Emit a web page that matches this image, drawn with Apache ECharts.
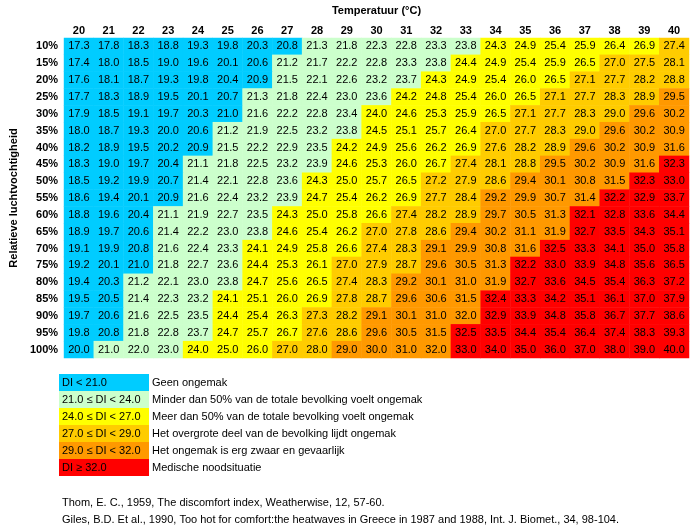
<!DOCTYPE html>
<html>
<head>
<meta charset="utf-8">
<script src="https://cdn.jsdelivr.net/npm/echarts@6/dist/echarts.min.js"></script>
<style>
  html, body { margin: 0; padding: 0; background: #fff; }
  #main { width: 690px; height: 528px; }
</style>
</head>
<body>
<div id="main"></div>
<script>
const chartDom = document.getElementById('main');
const myChart = echarts.init(chartDom);

// Column and row headers
const temps = ['20', '21', '22', '23', '24', '25', '26', '27', '28', '29', '30',
               '31', '32', '33', '34', '35', '36', '37', '38', '39', '40'];
const humidity = ['10%', '15%', '20%', '25%', '30%', '35%', '40%', '45%', '50%', '55%',
                  '60%', '65%', '70%', '75%', '80%', '85%', '90%', '95%', '100%'];

// Discomfort index, one row per humidity
const diRows = [
  [17.3, 17.8, 18.3, 18.8, 19.3, 19.8, 20.3, 20.8, 21.3, 21.8, 22.3, 22.8, 23.3, 23.8, 24.3, 24.9, 25.4, 25.9, 26.4, 26.9, 27.4],
  [17.4, 18.0, 18.5, 19.0, 19.6, 20.1, 20.6, 21.2, 21.7, 22.2, 22.8, 23.3, 23.8, 24.4, 24.9, 25.4, 25.9, 26.5, 27.0, 27.5, 28.1],
  [17.6, 18.1, 18.7, 19.3, 19.8, 20.4, 20.9, 21.5, 22.1, 22.6, 23.2, 23.7, 24.3, 24.9, 25.4, 26.0, 26.5, 27.1, 27.7, 28.2, 28.8],
  [17.7, 18.3, 18.9, 19.5, 20.1, 20.7, 21.3, 21.8, 22.4, 23.0, 23.6, 24.2, 24.8, 25.4, 26.0, 26.5, 27.1, 27.7, 28.3, 28.9, 29.5],
  [17.9, 18.5, 19.1, 19.7, 20.3, 21.0, 21.6, 22.2, 22.8, 23.4, 24.0, 24.6, 25.3, 25.9, 26.5, 27.1, 27.7, 28.3, 29.0, 29.6, 30.2],
  [18.0, 18.7, 19.3, 20.0, 20.6, 21.2, 21.9, 22.5, 23.2, 23.8, 24.5, 25.1, 25.7, 26.4, 27.0, 27.7, 28.3, 29.0, 29.6, 30.2, 30.9],
  [18.2, 18.9, 19.5, 20.2, 20.9, 21.5, 22.2, 22.9, 23.5, 24.2, 24.9, 25.6, 26.2, 26.9, 27.6, 28.2, 28.9, 29.6, 30.2, 30.9, 31.6],
  [18.3, 19.0, 19.7, 20.4, 21.1, 21.8, 22.5, 23.2, 23.9, 24.6, 25.3, 26.0, 26.7, 27.4, 28.1, 28.8, 29.5, 30.2, 30.9, 31.6, 32.3],
  [18.5, 19.2, 19.9, 20.7, 21.4, 22.1, 22.8, 23.6, 24.3, 25.0, 25.7, 26.5, 27.2, 27.9, 28.6, 29.4, 30.1, 30.8, 31.5, 32.3, 33.0],
  [18.6, 19.4, 20.1, 20.9, 21.6, 22.4, 23.2, 23.9, 24.7, 25.4, 26.2, 26.9, 27.7, 28.4, 29.2, 29.9, 30.7, 31.4, 32.2, 32.9, 33.7],
  [18.8, 19.6, 20.4, 21.1, 21.9, 22.7, 23.5, 24.3, 25.0, 25.8, 26.6, 27.4, 28.2, 28.9, 29.7, 30.5, 31.3, 32.1, 32.8, 33.6, 34.4],
  [18.9, 19.7, 20.6, 21.4, 22.2, 23.0, 23.8, 24.6, 25.4, 26.2, 27.0, 27.8, 28.6, 29.4, 30.2, 31.1, 31.9, 32.7, 33.5, 34.3, 35.1],
  [19.1, 19.9, 20.8, 21.6, 22.4, 23.3, 24.1, 24.9, 25.8, 26.6, 27.4, 28.3, 29.1, 29.9, 30.8, 31.6, 32.5, 33.3, 34.1, 35.0, 35.8],
  [19.2, 20.1, 21.0, 21.8, 22.7, 23.6, 24.4, 25.3, 26.1, 27.0, 27.9, 28.7, 29.6, 30.5, 31.3, 32.2, 33.0, 33.9, 34.8, 35.6, 36.5],
  [19.4, 20.3, 21.2, 22.1, 23.0, 23.8, 24.7, 25.6, 26.5, 27.4, 28.3, 29.2, 30.1, 31.0, 31.9, 32.7, 33.6, 34.5, 35.4, 36.3, 37.2],
  [19.5, 20.5, 21.4, 22.3, 23.2, 24.1, 25.1, 26.0, 26.9, 27.8, 28.7, 29.6, 30.6, 31.5, 32.4, 33.3, 34.2, 35.1, 36.1, 37.0, 37.9],
  [19.7, 20.6, 21.6, 22.5, 23.5, 24.4, 25.4, 26.3, 27.3, 28.2, 29.1, 30.1, 31.0, 32.0, 32.9, 33.9, 34.8, 35.8, 36.7, 37.7, 38.6],
  [19.8, 20.8, 21.8, 22.8, 23.7, 24.7, 25.7, 26.7, 27.6, 28.6, 29.6, 30.5, 31.5, 32.5, 33.5, 34.4, 35.4, 36.4, 37.4, 38.3, 39.3],
  [20.0, 21.0, 22.0, 23.0, 24.0, 25.0, 26.0, 27.0, 28.0, 29.0, 30.0, 31.0, 32.0, 33.0, 34.0, 35.0, 36.0, 37.0, 38.0, 39.0, 40.0]
];

// Class edges and legend
const bandEdges = [21, 24, 27, 29, 32];
const bandColors = ['#00ccff', '#ccffcc', '#ffff00', '#ffcc00', '#ff9900', '#ff0000'];
const bandLabels = ['DI < 21.0', '21.0 \u2264 DI < 24.0', '24.0 \u2264 DI < 27.0',
                    '27.0 \u2264 DI < 29.0', '29.0 \u2264 DI < 32.0', 'DI \u2265 32.0'];
const bandTexts = ['Geen ongemak',
                   'Minder dan 50% van de totale bevolking voelt ongemak',
                   'Meer dan 50% van de totale bevolking voelt ongemak',
                   'Het overgrote deel van de bevolking lijdt ongemak',
                   'Het ongemak is erg zwaar en gevaarlijk',
                   'Medische noodsituatie'];
// cells whose printed value is rounded up onto a class edge but are coloured in the class below
const roundedUp = [['25', '30%'], ['22', '75%'], ['38', '30%'], ['37', '35%'], ['33', '90%'], ['32', '100%']];

const sources = [
  'Thom, E. C., 1959, The discomfort index, Weatherwise, 12, 57-60.',
  'Giles, B.D. Et al., 1990, Too hot for comfort:the heatwaves in Greece in 1987 and 1988, Int. J. Biomet., 34, 98-104.'
];

const FONT = '"Liberation Sans", Arial, sans-serif';

function bandOf(v, t, rh) {
  let b = bandEdges.filter(e => v >= e).length;
  if (roundedUp.some(c => c[0] === t && c[1] === rh)) b -= 1;
  return b;
}

const cells = [];
diRows.forEach((row, yi) => {
  row.forEach((v, xi) => {
    cells.push([xi, yi, v, bandOf(v, temps[xi], humidity[yi])]);
  });
});

// legend block drawn under the table
const legendTop = 374;
const rowH = 17;
const graphics = [];
bandColors.forEach((c, i) => {
  graphics.push({
    type: 'rect', left: 59, top: legendTop + i * rowH,
    shape: { width: 90, height: rowH },
    style: { fill: c }
  });
  graphics.push({
    type: 'text', left: 62, top: legendTop + i * rowH + 3,
    style: { text: bandLabels[i], fill: '#000', font: '11px ' + FONT }
  });
  graphics.push({
    type: 'text', left: 152, top: legendTop + i * rowH + 3,
    style: { text: bandTexts[i], fill: '#000', font: '11px ' + FONT }
  });
});
sources.forEach((s, i) => {
  graphics.push({
    type: 'text', left: 62, top: 497 + i * 17,
    style: { text: s, fill: '#000', font: '11px ' + FONT }
  });
});

const option = {
  backgroundColor: '#fff',
  animation: false,
  grid: { left: 59, top: 34, width: 630, height: 324 },
  xAxis: {
    type: 'category',
    data: temps,
    position: 'top',
    name: 'Temperatuur (\u00b0C)',
    nameLocation: 'middle',
    nameGap: 22,
    nameTextStyle: { fontFamily: FONT, fontWeight: 'bold', fontSize: 11, color: '#000' },
    axisLine: { show: false },
    axisTick: { show: false },
    splitLine: { show: false },
    axisLabel: { fontFamily: FONT, fontWeight: 'bold', fontSize: 11, color: '#000', margin: 2 }
  },
  yAxis: {
    type: 'category',
    data: humidity,
    inverse: true,
    name: 'Relatieve luchtvochtigheid',
    nameLocation: 'middle',
    nameGap: 40,
    nameTextStyle: { fontFamily: FONT, fontWeight: 'bold', fontSize: 11, color: '#000' },
    axisLine: { show: false },
    axisTick: { show: false },
    splitLine: { show: false },
    axisLabel: { fontFamily: FONT, fontWeight: 'bold', fontSize: 11, color: '#000', margin: 6 }
  },
  visualMap: {
    type: 'piecewise',
    show: false,
    dimension: 3,
    seriesIndex: 0,
    pieces: bandColors.map((c, i) => ({ value: i, color: c }))
  },
  series: [{
    type: 'heatmap',
    data: cells,
    label: {
      show: true,
      formatter: p => p.value[2].toFixed(1),
      fontFamily: FONT,
      fontSize: 11,
      color: '#000'
    },
    itemStyle: { borderWidth: 0 },
    emphasis: { disabled: true }
  }],
  graphic: graphics
};

myChart.setOption(option);
window.onresize = () => myChart.resize();
</script>
</body>
</html>
